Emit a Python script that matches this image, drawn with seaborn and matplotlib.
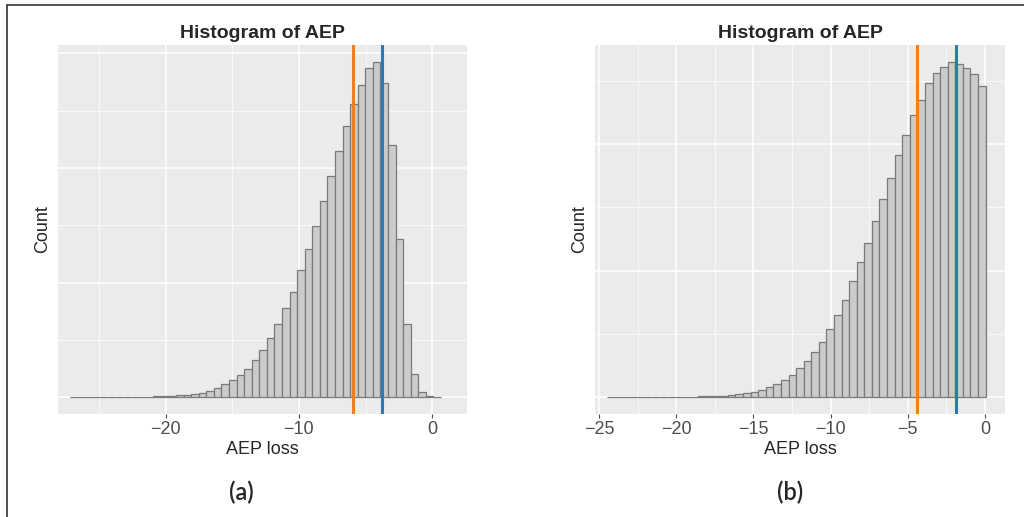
import numpy as np
import pandas as pd
import seaborn as sns
import matplotlib.pyplot as plt
from matplotlib.lines import Line2D
from matplotlib.ticker import MultipleLocator

# (a) bin counts, leftmost bin first (50 bins)
left_counts = [2, 0, 0, 0, 0, 1, 2, 2, 3, 4, 5, 7, 9, 12, 16, 20, 29, 41, 58, 84,
               113, 151, 194, 247, 325, 412, 514, 639, 777, 919, 1114, 1293, 1496,
               1714, 1934, 2152, 2363, 2558, 2724, 2871, 2926, 2740, 2201, 1379,
               639, 200, 46, 9, 4]
left_bin_start = -27.16
left_bin_width = 0.5675
left_lines = [-5.98, -3.78]   # orange, blue

# (b) bin counts, leftmost bin first (50 bins)
right_counts = [1, 0, 0, 1, 0, 0, 1, 1, 1, 1, 2, 2, 3, 3, 4,
                5, 8, 12, 16, 22, 29, 39, 52, 70, 89, 114, 143, 178, 220, 269,
                325, 384, 458, 533, 611, 696, 784, 867, 957, 1037, 1116, 1174,
                1242, 1280, 1305, 1325, 1318, 1300, 1276, 1228]
right_bin_start = -24.51
right_bin_width = 0.491
right_lines = [-4.38, -1.88]

x_ticks_a = [-20, -10, 0]
x_ticks_b = [-25, -20, -15, -10, -5, 0]

sns.set_theme(style="darkgrid", rc={
    "axes.facecolor": "#EBEBEB",
    "grid.color": "white",
    "axes.edgecolor": "#EBEBEB",
})
plt.rcParams["font.family"] = ["Liberation Sans", "DejaVu Sans"]

fig = plt.figure(figsize=(10.24, 5.17), dpi=100)
ax_a = fig.add_axes([0.0566, 0.1992, 0.3994, 0.7137])
ax_b = fig.add_axes([0.5811, 0.1992, 0.4004, 0.7137])


def draw(ax, counts, start, width, lines, xlim, ticks, minor_x, major_y, minor_y):
    n = len(counts)
    edges = start + width * np.arange(n + 1)
    df = pd.DataFrame({"AEP": (edges[:-1] + edges[1:]) / 2, "n": counts})
    sns.histplot(data=df, x="AEP", weights="n", bins=list(edges), ax=ax,
                 color="#CBCBCB", edgecolor="#7A7A7A", linewidth=0.9, alpha=1)
    ax.axvline(lines[0], color="#F47F16", lw=2.2)
    ax.axvline(lines[1], color="#2C78B8", lw=2.2)
    ax.set_xlim(*xlim)
    top = max(counts)
    ax.set_ylim(-0.05 * top, 1.05 * top)
    ax.set_xticks(ticks)
    ax.set_xticklabels([str(t).replace("-", "\u2212") for t in ticks])
    ax.xaxis.set_minor_locator(MultipleLocator(minor_x))
    ax.yaxis.set_major_locator(MultipleLocator(major_y))
    ax.yaxis.set_minor_locator(MultipleLocator(minor_y))
    ax.grid(which="major", color="white", lw=1.1)
    ax.grid(which="minor", color="white", lw=0.5)
    ax.set_axisbelow(True)
    ax.tick_params(axis="y", which="both", left=False, labelleft=False)
    ax.tick_params(axis="x", which="major", bottom=True, length=3, width=0.8,
                   color="#4D4D4D", labelsize=13, labelcolor="#4D4D4D", pad=2)
    ax.tick_params(axis="x", which="minor", bottom=False)
    for s in ax.spines.values():
        s.set_visible(False)
    ax.set_title("Histogram of AEP", fontsize=14, fontweight="bold", pad=5)
    ax.set_xlabel("AEP loss", fontsize=13, labelpad=2)
    ax.set_ylabel("Count", fontsize=13, labelpad=5)


draw(ax_a, left_counts, left_bin_start, left_bin_width, left_lines,
     (-28.07, 2.6), x_ticks_a, 5, 1000, 500)
draw(ax_b, right_counts, right_bin_start, right_bin_width, right_lines,
     (-25.26, 1.3), x_ticks_b, 2.5, 500, 250)

fig.text(241 / 1024, 1 - 492 / 517, "(a)", ha="center", va="center",
         fontsize=17, fontweight="semibold", family=["Lato", "DejaVu Sans"])
fig.text(790 / 1024, 1 - 492 / 517, "(b)", ha="center", va="center",
         fontsize=17, fontweight="semibold", family=["Lato", "DejaVu Sans"])

# thin frame on the top and left edges
fig.add_artist(Line2D([7 / 1024, 1], [1 - 5 / 517, 1 - 5 / 517],
                      transform=fig.transFigure, color="#333333", lw=1.2))
fig.add_artist(Line2D([7 / 1024, 7 / 1024], [0, 1 - 5 / 517],
                      transform=fig.transFigure, color="#333333", lw=1.2))

fig.savefig("out.png", dpi=100)
